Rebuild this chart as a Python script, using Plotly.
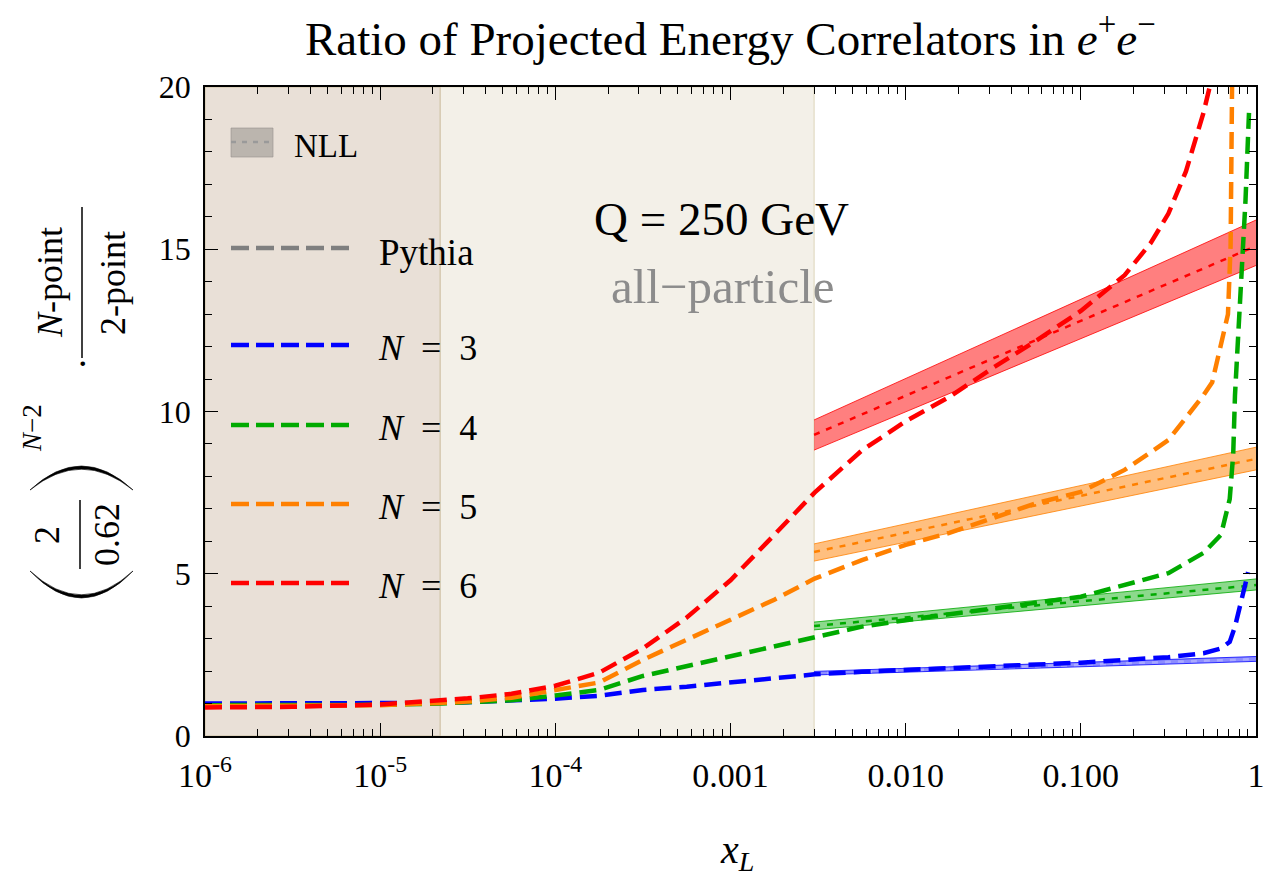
import plotly.graph_objects as go

# ---------------- data ----------------
# log10(x_L) sample positions and Pythia ratios
logx_n3 = [-6, -5.5, -5, -4.66, -4.5, -4.25, -4, -3.75, -3.5, -3.25, -3, -2.75, -2.52,
           -2.25, -2, -1.5, -1, -0.5, -0.3, -0.2, -0.15, -0.12, -0.09, -0.06, -0.045]
pythia_n3 = [1.0, 1.0, 1.0, 1.02, 1.04, 1.08, 1.15, 1.24, 1.42, 1.52, 1.64, 1.78, 1.9,
             1.98, 2.03, 2.16, 2.26, 2.43, 2.55, 2.7, 2.9, 3.37, 3.98, 4.7, 5.05]

logx_n4 = [-6, -5.5, -5, -4.66, -4.5, -4.25, -4, -3.75, -3.5, -3.25, -3, -2.75, -2.52,
           -2.25, -2, -1.5, -1, -0.5, -0.3, -0.2, -0.15, -0.13, -0.12, -0.1, -0.08, -0.06, -0.04]
pythia_n4 = [0.95, 0.95, 0.96, 1.0, 1.03, 1.1, 1.25, 1.42, 1.85, 2.15, 2.45, 2.75, 3.05,
             3.37, 3.57, 3.94, 4.29, 5.02, 5.64, 6.2, 7.3, 8.7, 10.5, 12.5, 14.5, 16.5, 19.2]

logx_n5 = [-6, -5.5, -5, -4.66, -4.5, -4.25, -4, -3.75, -3.5, -3.25, -3, -2.75, -2.52,
           -2.25, -2, -1.75, -1.5, -1.25, -1, -0.75, -0.5, -0.4, -0.3, -0.25, -0.2,
           -0.16, -0.145, -0.14, -0.135]
pythia_n5 = [0.92, 0.93, 0.95, 1.02, 1.06, 1.18, 1.42, 1.65, 2.35, 2.96, 3.57, 4.2, 4.85,
             5.42, 5.89, 6.26, 6.72, 7.18, 7.52, 8.2, 9.12, 9.8, 10.5, 10.9, 12.0,
             13.0, 15.1, 18.0, 21.0]

logx_n6 = [-6, -5.5, -5, -4.66, -4.5, -4.25, -4, -3.75, -3.5, -3.25, -3, -2.75, -2.52,
           -2.25, -2, -1.75, -1.5, -1.25, -1, -0.75, -0.6, -0.5, -0.4, -0.3, -0.22]
pythia_n6 = [0.88, 0.9, 0.97, 1.1, 1.16, 1.3, 1.55, 1.95, 2.7, 3.65, 4.8, 6.2, 7.5,
             8.8, 9.7, 10.45, 11.35, 12.2, 13.1, 14.2, 15.2, 16.1, 17.4, 19.2, 21.0]

# NLL bands (x_L from 0.003 to 1)
nll_x = [0.003, 1.0]
nll_n3_c, nll_n3_lo, nll_n3_hi = [1.93, 2.37], [1.88, 2.30], [1.99, 2.45]
nll_n4_c, nll_n4_lo, nll_n4_hi = [3.39, 4.65], [3.27, 4.50], [3.51, 4.84]
nll_n5_c, nll_n5_lo, nll_n5_hi = [5.67, 8.54], [5.39, 8.20], [5.92, 8.90]
nll_n6_c, nll_n6_lo, nll_n6_hi = [9.28, 15.1], [8.81, 14.5], [9.74, 15.9]

# shaded regions in x_L
dark_region = [1e-6, 2.2e-5]
light_region = [2.2e-5, 0.003]

x_tickvals = [1e-6, 1e-5, 1e-4, 1e-3, 1e-2, 1e-1, 1]
x_ticktext = ["10<sup>-6</sup>", "10<sup>-5</sup>", "10<sup>-4</sup>", "0.001", "0.010", "0.100", "1"]
y_tickvals = [0, 5, 10, 15, 20]
y_ticktext = ["0", "5", "10", "15", "20"]

labels = ["<i>N</i>\u2002=\u20023", "<i>N</i>\u2002=\u20024", "<i>N</i>\u2002=\u20025", "<i>N</i>\u2002=\u20026"]
colors = ["#0000FF", "#00AA00", "#FF8000", "#FF0000"]
band_fill = ["rgba(0,0,255,0.45)", "rgba(0,170,0,0.45)", "rgba(255,128,0,0.5)", "rgba(255,0,0,0.5)"]
center_col = ["rgba(170,170,255,1)", "#00AA00", "#FF8000", "#FF0000"]

FONT = "Liberation Serif"

# ---------------- figure ----------------
W, H = 1266, 876
L_M, R_M, T_M, B_M = 205, 10, 87, 140
PW, PH = W - L_M - R_M, H - T_M - B_M


def px(xp):
    return (xp - L_M) / PW


def py(yp):
    return (H - B_M - yp) / PH


fig = go.Figure()

pythia = [(logx_n3, pythia_n3), (logx_n4, pythia_n4), (logx_n5, pythia_n5), (logx_n6, pythia_n6)]
nll = [(nll_n3_c, nll_n3_lo, nll_n3_hi), (nll_n4_c, nll_n4_lo, nll_n4_hi),
       (nll_n5_c, nll_n5_lo, nll_n5_hi), (nll_n6_c, nll_n6_lo, nll_n6_hi)]

# NLL bands
for i, (c, lo, hi) in enumerate(nll):
    fig.add_trace(go.Scatter(x=nll_x, y=lo, mode="lines", line=dict(color=colors[i], width=0.8),
                             showlegend=False, hoverinfo="skip"))
    fig.add_trace(go.Scatter(x=nll_x, y=hi, mode="lines", fill="tonexty", fillcolor=band_fill[i],
                             line=dict(color=colors[i], width=0.8), showlegend=False, hoverinfo="skip"))
for i, (c, lo, hi) in enumerate(nll):
    fig.add_trace(go.Scatter(x=nll_x, y=c, mode="lines",
                             line=dict(color=center_col[i], width=2.5, dash="6px,7px"),
                             showlegend=False, hoverinfo="skip"))

# Pythia curves
for i, (lx, yv) in enumerate(pythia):
    fig.add_trace(go.Scatter(x=[10 ** v for v in lx], y=yv, mode="lines",
                             line=dict(color=colors[i], width=4.5, dash="17px,8px"),
                             name=labels[i], showlegend=False))

shapes = []
# shaded regions
shapes.append(dict(type="rect", xref="x", yref="paper", x0=light_region[0], x1=light_region[1],
                   y0=0, y1=1, fillcolor="#F3F0E8", line=dict(color="#E6E0CC", width=1.5), layer="below"))
shapes.append(dict(type="rect", xref="x", yref="paper", x0=dark_region[0], x1=dark_region[1],
                   y0=0, y1=1, fillcolor="#E9E0D7", line=dict(color="#D6CAB2", width=1.5), layer="below"))

annotations = []
# legend (drawn manually)
shapes.append(dict(type="rect", xref="paper", yref="paper", x0=px(231), x1=px(273), y0=py(157), y1=py(128),
                   fillcolor="rgba(150,145,140,0.55)", line=dict(color="rgba(150,145,140,0.6)", width=1)))
shapes.append(dict(type="line", xref="paper", yref="paper", x0=px(231), x1=px(272), y0=py(142), y1=py(142),
                   line=dict(color="#9a9a9a", width=2.5, dash="5px,6px")))
annotations.append(dict(xref="paper", yref="paper", x=px(292), y=py(146), text="NLL", showarrow=False,
                        xanchor="left", yanchor="middle", font=dict(family=FONT, size=33, color="black")))
shapes.append(dict(type="line", xref="paper", yref="paper", x0=px(231), x1=px(349), y0=py(248), y1=py(248),
                   line=dict(color="#7f7f7f", width=4.5, dash="18px,7px")))
annotations.append(dict(xref="paper", yref="paper", x=px(377), y=py(252), text="Pythia", showarrow=False,
                        xanchor="left", yanchor="middle", font=dict(family=FONT, size=37, color="black")))
leg_y = [345, 425, 504, 583]
for i in range(4):
    shapes.append(dict(type="line", xref="paper", yref="paper", x0=px(231), x1=px(349), y0=py(leg_y[i]),
                       y1=py(leg_y[i]), line=dict(color=colors[i], width=4.5, dash="18px,7px")))
    annotations.append(dict(xref="paper", yref="paper", x=px(376), y=py(leg_y[i] + 3), text=labels[i],
                            showarrow=False, xanchor="left", yanchor="middle",
                            font=dict(family=FONT, size=36, color="black")))

# in-plot text
annotations.append(dict(xref="paper", yref="paper", x=px(721), y=py(219), text="Q = 250 GeV", showarrow=False,
                        xanchor="center", yanchor="middle", font=dict(family=FONT, size=47, color="black")))
annotations.append(dict(xref="paper", yref="paper", x=px(723), y=py(286), text="all\u2212particle",
                        showarrow=False, xanchor="center", yanchor="middle",
                        font=dict(family=FONT, size=49, color="#8c8c8c")))

# title
annotations.append(dict(xref="paper", yref="paper", x=px(730), y=py(36),
                        text="Ratio of Projected Energy Correlators in <i>e</i><sup>+</sup><i>e</i><sup>\u2212</sup>",
                        showarrow=False, xanchor="center", yanchor="middle",
                        font=dict(family=FONT, size=47, color="black")))
# x-axis title
annotations.append(dict(xref="paper", yref="paper", x=px(737), y=py(852), text="<i>x</i><sub><i>L</i></sub>",
                        showarrow=False, xanchor="center", yanchor="middle",
                        font=dict(family=FONT, size=40, color="black")))


# y-axis label built from rotated pieces
def rot(xp, yp, text, size, color="black"):
    annotations.append(dict(xref="paper", yref="paper", x=px(xp), y=py(yp), text=text, showarrow=False,
                            textangle=-90, xanchor="center", yanchor="middle",
                            font=dict(family=FONT, size=size, color=color)))


def paren(tip_y, apex_y, thick):
    # crescent-shaped big parenthesis lying on its side
    x0, x1, xm = 30, 133, 81.5
    c_out = 2 * apex_y - tip_y
    c_in = c_out - 2 * thick if apex_y > tip_y else c_out + 2 * thick
    path = (f"M {px(x0)},{py(tip_y)} Q {px(xm)},{py(c_out)} {px(x1)},{py(tip_y)} "
            f"Q {px(xm)},{py(c_in)} {px(x0)},{py(tip_y)} Z")
    shapes.append(dict(type="path", xref="paper", yref="paper", path=path, fillcolor="black",
                       line=dict(color="black", width=0.6)))


paren(571, 598, 3.2)      # "("
paren(490, 466, 3.2)      # ")"
rot(47, 535, "2", 36)
rot(107, 535, "0.62", 36)
shapes.append(dict(type="line", xref="paper", yref="paper", x0=px(80), x1=px(80), y0=py(500), y1=py(569),
                   line=dict(color="black", width=1.5)))
rot(32, 428, "<i>N</i>\u22122", 27)
rot(82, 364, "\u00b7", 38)
rot(50, 283, "<i>N</i>-point", 36)
rot(113, 283, "2-point", 36)
shapes.append(dict(type="line", xref="paper", yref="paper", x0=px(82), x1=px(82), y0=py(207), y1=py(358),
                   line=dict(color="black", width=1.5)))

minor_x = [k * 10 ** d for d in range(-6, 0) for k in range(2, 10)]

fig.update_layout(
    width=W, height=H, autosize=False,
    margin=dict(l=L_M, r=R_M, t=T_M, b=B_M, autoexpand=False),
    paper_bgcolor="white", plot_bgcolor="white",
    showlegend=False,
    shapes=shapes, annotations=annotations,
    font=dict(family=FONT, color="black"),
    xaxis=dict(type="log", range=[-6, 0], tickvals=x_tickvals, ticktext=x_ticktext,
               ticks="inside", ticklen=13, tickwidth=1.3, tickcolor="black",
               showline=True, linecolor="black", linewidth=1.5, mirror="allticks",
               showgrid=False, zeroline=False, tickfont=dict(family=FONT, size=34),
               ticklabelstandoff=8, automargin=False,
               minor=dict(tickvals=minor_x, ticks="inside", ticklen=7, tickwidth=1, tickcolor="black",
                          showgrid=False)),
    yaxis=dict(range=[0, 20], tickvals=y_tickvals, ticktext=y_ticktext,
               ticks="inside", ticklen=13, tickwidth=1.3, tickcolor="black",
               showline=True, linecolor="black", linewidth=1.5, mirror="allticks",
               showgrid=False, zeroline=False, tickfont=dict(family=FONT, size=32),
               ticklabelstandoff=6, automargin=False,
               minor=dict(dtick=1, ticks="inside", ticklen=7, tickwidth=1, tickcolor="black",
                          showgrid=False)),
)

fig.write_html("out.html", config={"responsive": False},
               post_script="document.body.style.margin='0px';document.body.style.overflow='hidden';")
